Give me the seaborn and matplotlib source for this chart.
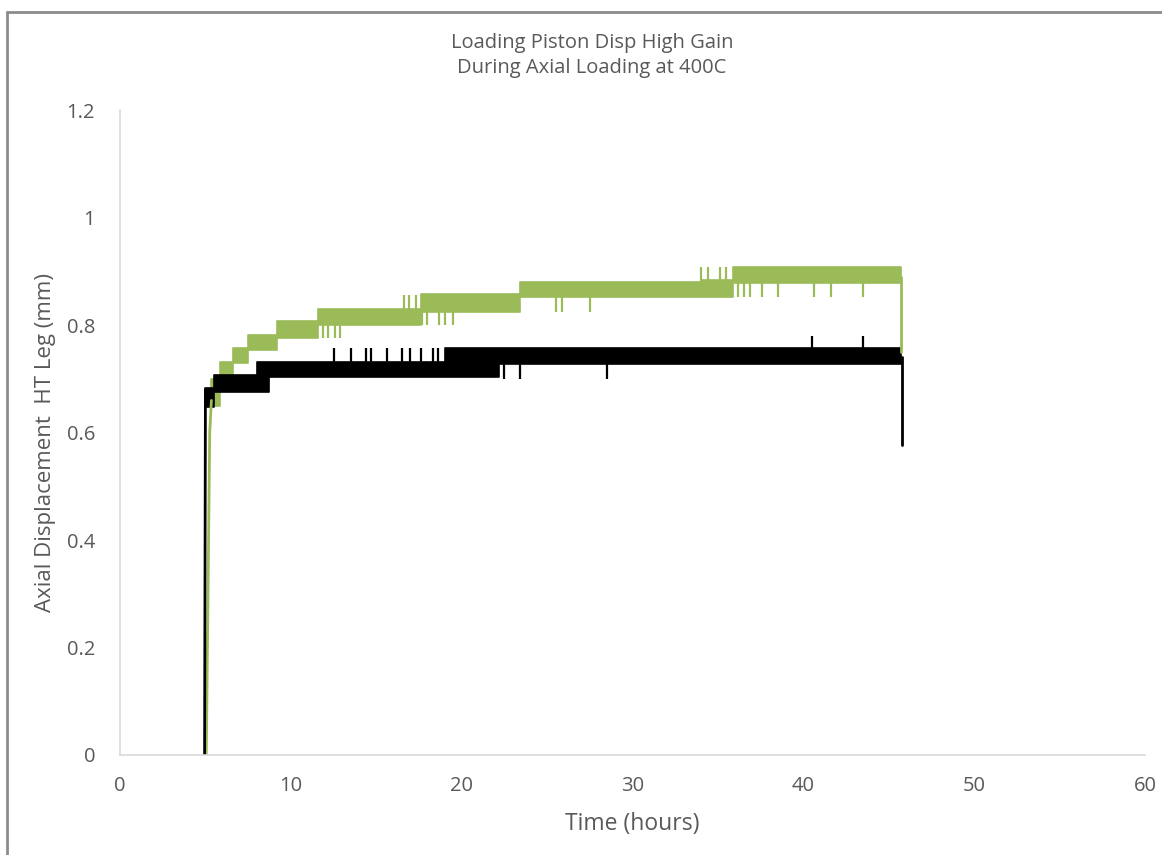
import matplotlib
matplotlib.use("Agg")
import matplotlib.pyplot as plt
import numpy as np
import seaborn as sns
from matplotlib.lines import Line2D

# --- data (time in hours, displacement in mm) ---
# initial loading ramps
black_rise_t = [4.95, 4.98, 5.0]
black_rise_y = [0.0, 0.40, 0.68]
green_rise_t = [5.05, 5.15, 5.25, 5.35]
green_rise_y = [0.0, 0.30, 0.60, 0.66]

# signal flickers between two adjacent levels -> drawn as step bands
green_band_t = [5.3, 5.85, 6.6, 7.5, 9.2, 11.6, 17.6, 23.4, 34.0, 35.9, 45.7]
green_band_lo = [0.65, 0.705, 0.730, 0.753, 0.776, 0.800, 0.824, 0.852, 0.852, 0.878]
green_band_hi = [0.70, 0.731, 0.757, 0.781, 0.807, 0.830, 0.858, 0.880, 0.884, 0.908]

black_band_t = [4.95, 5.5, 8.0, 8.7, 19.0, 22.2, 45.7]
black_band_lo = [0.647, 0.675, 0.675, 0.703, 0.703, 0.728]
black_band_hi = [0.683, 0.707, 0.731, 0.731, 0.757, 0.757]

# isolated excursions outside the band (time, tip value)
green_spike_t = [11.9, 12.2, 12.6, 12.9, 16.6, 16.9, 17.3, 17.7, 18.0, 18.7, 19.0, 19.5,
                 23.5, 23.8, 24.3, 25.5, 25.9, 27.5, 34.0, 34.4, 35.1, 35.5,
                 36.2, 36.5, 36.9, 37.6, 38.5, 40.6, 41.6, 43.5]
green_spike_y = [0.776, 0.776, 0.776, 0.776, 0.856, 0.856, 0.856, 0.80, 0.80, 0.80, 0.80, 0.80,
                 0.880, 0.880, 0.880, 0.824, 0.824, 0.824, 0.908, 0.908, 0.908, 0.908,
                 0.852, 0.852, 0.852, 0.852, 0.852, 0.852, 0.852, 0.852]

black_spike_t = [12.5, 13.5, 14.4, 14.7, 15.6, 16.5, 17.0, 17.6, 18.3, 18.6,
                 22.5, 23.4, 28.5, 40.5, 43.5]
black_spike_y = [0.757, 0.757, 0.757, 0.757, 0.757, 0.757, 0.757, 0.757, 0.757, 0.757,
                 0.700, 0.700, 0.700, 0.780, 0.780]

# unloading drop at the end of the test
green_end_t = [45.7, 45.7]
green_end_y = [0.89, 0.75]
black_end_t = [45.75, 45.75]
black_end_y = [0.74, 0.577]

GREEN = "#9BBB59"
BLACK = "#000000"
GREY = "#595959"


def band_value(t, band_t, lo, hi):
    # middle of the band segment the spike belongs to
    i = np.searchsorted(band_t, t, side="right") - 1
    i = min(max(i, 0), len(lo) - 1)
    return 0.5 * (lo[i] + hi[i])


def draw_trace(ax, rise_t, rise_y, band_t, lo, hi, spike_t, spike_y, end_t, end_y, color):
    sns.lineplot(x=rise_t, y=rise_y, color=color, lw=2, ax=ax, sort=False, estimator=None)
    lo_s = np.append(lo, lo[-1])
    hi_s = np.append(hi, hi[-1])
    ax.fill_between(band_t, lo_s, hi_s, step="post", color=color, lw=1.2, edgecolor=color)
    base = [band_value(t, band_t, lo, hi) for t in spike_t]
    ax.vlines(spike_t, base, spike_y, color=color, lw=1.6)
    sns.lineplot(x=end_t, y=end_y, color=color, lw=2, ax=ax, sort=False, estimator=None)


def main():
    sns.set_style("white")
    plt.rcParams["font.family"] = ["Open Sans", "DejaVu Sans"]

    fig = plt.figure(figsize=(11.62, 8.55), dpi=100)
    ax = fig.add_axes([0.1033, 0.117, 0.882, 0.754])

    draw_trace(ax, green_rise_t, green_rise_y, green_band_t, green_band_lo, green_band_hi,
               green_spike_t, green_spike_y, green_end_t, green_end_y, GREEN)
    draw_trace(ax, black_rise_t, black_rise_y, black_band_t, black_band_lo, black_band_hi,
               black_spike_t, black_spike_y, black_end_t, black_end_y, BLACK)

    ax.set_xlim(0, 60)
    ax.set_ylim(0, 1.2)
    ax.set_xticks(range(0, 61, 10))
    ax.set_yticks([0, 0.2, 0.4, 0.6, 0.8, 1.0, 1.2])
    ax.set_yticklabels(["0", "0.2", "0.4", "0.6", "0.8", "1", "1.2"])
    ax.tick_params(axis="both", colors="#D9D9D9", labelcolor=GREY, labelsize=14.5,
                   length=6, width=1, direction="out")
    ax.tick_params(axis="x", pad=9)
    ax.tick_params(axis="y", pad=12)
    for side in ["top", "right"]:
        ax.spines[side].set_visible(False)
    for side in ["left", "bottom"]:
        ax.spines[side].set_color("#D9D9D9")
        ax.spines[side].set_linewidth(1.2)

    ax.set_xlabel("Time (hours)", fontsize=16.5, color=GREY, labelpad=12)
    ax.set_ylabel("Axial Displacement  HT Leg (mm)", fontsize=16, color=GREY)
    ax.yaxis.set_label_coords(-0.062, 0.485)
    # chart title sits centred on the whole chart area, not on the plot area
    fig.text(0.5095, 0.935, "Loading Piston Disp High Gain\nDuring Axial Loading at 400C",
             ha="center", va="center", fontsize=14.5, color=GREY, linespacing=1.35)

    # screenshot frame on the top and left edge
    fig.add_artist(Line2D([0.006, 1.0], [0.986, 0.986], transform=fig.transFigure,
                          color="#8C8C8C", lw=2))
    fig.add_artist(Line2D([0.006, 0.006], [0.0, 0.986], transform=fig.transFigure,
                          color="#8C8C8C", lw=2))

    fig.savefig("out.png", dpi=100, facecolor="white")


if __name__ == "__main__":
    main()
